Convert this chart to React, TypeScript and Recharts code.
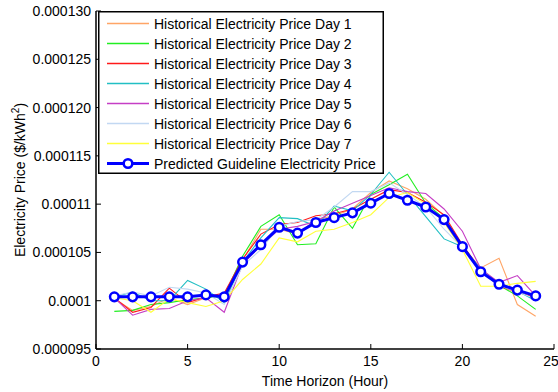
import React from 'react';
import { LineChart, Line, XAxis, YAxis, Legend, Label } from 'recharts';

const hours = [1, 2, 3, 4, 5, 6, 7, 8, 9, 10, 11, 12, 13, 14, 15, 16, 17, 18, 19, 20, 21, 22, 23, 24];

const day1 = [0.0001002, 0.0000990, 0.0000994, 0.0001003, 0.0000996, 0.0001003, 0.0001006, 0.0001042, 0.0001074, 0.0001074, 0.0001069, 0.0001084, 0.0001088, 0.0001095, 0.0001112, 0.0001124, 0.0001116, 0.0001105, 0.0001088, 0.0001056, 0.0001034, 0.0001044, 0.0000996, 0.0000984];
const day2 = [0.0000989, 0.0000990, 0.0000996, 0.0000998, 0.0001001, 0.0001003, 0.0001005, 0.0001046, 0.0001077, 0.0001089, 0.0001058, 0.0001059, 0.0001097, 0.0001075, 0.0001110, 0.0001120, 0.0001131, 0.0001101, 0.0001085, 0.0001057, 0.0001031, 0.0001016, 0.0001005, 0.0000991];
const day3 = [0.0001003, 0.0000988, 0.0000993, 0.0001013, 0.0000998, 0.0001004, 0.0001008, 0.0001043, 0.0001069, 0.0001079, 0.0001081, 0.0001088, 0.0001090, 0.0001095, 0.0001105, 0.0001115, 0.0001112, 0.0001102, 0.0001089, 0.0001058, 0.0001032, 0.0001015, 0.0001009, 0.0001003];
const day4 = [0.0001004, 0.0001009, 0.0001000, 0.0001000, 0.0001021, 0.0001012, 0.0000998, 0.0001040, 0.0001065, 0.0001086, 0.0001085, 0.0001077, 0.0001098, 0.0001093, 0.0001110, 0.0001133, 0.0001110, 0.0001087, 0.0001064, 0.0001056, 0.0001033, 0.0001018, 0.0001010, 0.0001000];
const day5 = [0.0001003, 0.0000985, 0.0000991, 0.0000992, 0.0001000, 0.0001003, 0.0000988, 0.0001038, 0.0001057, 0.0001074, 0.0001077, 0.0001082, 0.0001093, 0.0001101, 0.0001109, 0.0001117, 0.0001113, 0.0001111, 0.0001095, 0.0001072, 0.0001033, 0.0001019, 0.0001026, 0.0001005];
const day6 = [0.0001005, 0.0001009, 0.0001005, 0.0001014, 0.0001012, 0.0001008, 0.0000996, 0.0001036, 0.0001053, 0.0001077, 0.0001082, 0.0001084, 0.0001097, 0.0001113, 0.0001113, 0.0001122, 0.0001110, 0.0001097, 0.0001074, 0.0001055, 0.0001032, 0.0001016, 0.0001009, 0.0001002];
const day7 = [0.0001003, 0.0001000, 0.0000988, 0.0001002, 0.0000998, 0.0000994, 0.0001000, 0.0001022, 0.0001038, 0.0001065, 0.0001061, 0.0001072, 0.0001074, 0.0001081, 0.0001089, 0.0001107, 0.0001112, 0.0001100, 0.0001081, 0.0001053, 0.0001015, 0.0001015, 0.0001018, 0.0001020];
const predicted = [0.0001004, 0.0001004, 0.0001004, 0.0001004, 0.0001004, 0.0001006, 0.0001004, 0.0001040, 0.0001058, 0.0001076, 0.0001070, 0.0001081, 0.0001086, 0.0001091, 0.0001101, 0.0001111, 0.0001104, 0.0001097, 0.0001084, 0.0001056, 0.0001030, 0.0001017, 0.0001011, 0.0001005];

const historical = [day1, day2, day3, day4, day5, day6, day7];
const historicalNames = [
  'Historical Electricity Price Day 1',
  'Historical Electricity Price Day 2',
  'Historical Electricity Price Day 3',
  'Historical Electricity Price Day 4',
  'Historical Electricity Price Day 5',
  'Historical Electricity Price Day 6',
  'Historical Electricity Price Day 7',
];
const historicalColors = ['#FFA566', '#22EE22', '#FF1A1A', '#22BFC4', '#C53EC5', '#C2D8F2', '#FFFF3A'];
const predictedName = 'Predicted Guideline Electricity Price';
const predictedColor = '#0000FF';

const xTicks = [0, 5, 10, 15, 20, 25];
const yTickValues = [0.000095, 0.0001, 0.000105, 0.00011, 0.000115, 0.00012, 0.000125, 0.00013];
const yTickLabels = ['0.000095', '0.0001', '0.000105', '0.00011', '0.000115', '0.000120', '0.000125', '0.000130'];

const data = hours.map((h, i) => {
  const row: Record<string, number> = { hour: h, pred: predicted[i] };
  historical.forEach((arr, k) => {
    row['d' + (k + 1)] = arr[i];
  });
  return row;
});

const FONT = '"Liberation Sans", Arial, Helvetica, sans-serif';

const formatY = (v: number) => {
  const idx = Math.round((v - 0.000095) / 0.000005);
  return yTickLabels[idx] ?? String(v);
};

const colorFor = (key: string) => {
  if (key === 'pred') return predictedColor;
  const k = parseInt(key.slice(1), 10) - 1;
  return historicalColors[k] ?? '#000';
};

const LegendBox = (props: any) => {
  const payload = props.payload || [];
  const w = 286;
  const h = 163;
  return (
    <svg width={w} height={h} style={{ display: 'block' }}>
      <rect x={0.75} y={0.75} width={w - 1.5} height={h - 1.5} fill="#fff" stroke="#000" strokeWidth={1.5} />
      {payload.map((p: any, i: number) => {
        const cy = 12.5 + i * 20;
        const key = String(p.dataKey);
        const isPred = key === 'pred';
        const c = colorFor(key);
        return (
          <g key={i}>
            <line x1={9} x2={51} y1={cy} y2={cy} stroke={c} strokeWidth={isPred ? 3 : 1.3} />
            {isPred && <circle cx={30} cy={cy} r={4.3} fill="#fff" stroke={c} strokeWidth={2.5} />}
            <text x={56} y={cy + 5} fontSize={14} fontFamily={FONT} fill="#000">{p.value}</text>
          </g>
        );
      })}
    </svg>
  );
};

const YLabel = () => (
  <text x={0} y={0} transform="translate(25,180) rotate(-90)" textAnchor="middle" fontSize={14} fontFamily={FONT} fill="#000">
    Electricity Price ($/kWh
    <tspan dy={-6} fontSize={10}>2</tspan>
    <tspan dy={6}>)</tspan>
  </text>
);

export default function App() {
  return (
    <div style={{ position: 'absolute', left: 0, top: 0, width: 558, height: 392, background: '#fff', fontFamily: FONT }}>
      <LineChart width={558} height={392} data={data} margin={{ top: 11, right: 4, bottom: 0, left: 0 }}>
        <XAxis
          dataKey="hour"
          type="number"
          domain={[0, 25]}
          ticks={xTicks}
          allowDataOverflow
          height={43}
          tickSize={-5}
          tickMargin={12}
          tick={{ fill: '#000', fontSize: 14, fontFamily: FONT }}
          axisLine={{ stroke: '#000', strokeWidth: 1.5 }}
          tickLine={{ stroke: '#000' }}
        >
          <Label value="Time Horizon (Hour)" position="insideBottom" offset={6} fill="#000" fontSize={14} fontFamily={FONT} />
        </XAxis>
        <XAxis
          xAxisId="top"
          orientation="top"
          dataKey="hour"
          type="number"
          domain={[0, 25]}
          ticks={xTicks}
          height={0}
          tickSize={-5}
          tick={false}
          axisLine={{ stroke: '#000', strokeWidth: 1.5 }}
          tickLine={{ stroke: '#000' }}
        />
        <YAxis
          type="number"
          domain={[0.000095, 0.00013]}
          ticks={yTickValues}
          allowDataOverflow
          width={96}
          tickSize={-5}
          tickMargin={10}
          tickFormatter={formatY}
          tick={{ fill: '#000', fontSize: 14, fontFamily: FONT }}
          axisLine={{ stroke: '#000', strokeWidth: 1.5 }}
          tickLine={{ stroke: '#000' }}
          label={<YLabel />}
        />
        <YAxis
          yAxisId="right"
          orientation="right"
          type="number"
          domain={[0.000095, 0.00013]}
          ticks={yTickValues}
          width={0}
          tickSize={-5}
          tick={false}
          axisLine={{ stroke: '#000', strokeWidth: 1.5 }}
          tickLine={{ stroke: '#000' }}
        />
        {historical.map((_, k) => (
          <Line
            key={k}
            type="linear"
            dataKey={'d' + (k + 1)}
            name={historicalNames[k]}
            stroke={historicalColors[k]}
            strokeWidth={1.1}
            dot={false}
            isAnimationActive={false}
          />
        ))}
        <Line
          type="linear"
          dataKey="pred"
          name={predictedName}
          stroke={predictedColor}
          strokeWidth={3}
          dot={{ r: 4.3, fill: '#fff', stroke: predictedColor, strokeWidth: 2.5 }}
          isAnimationActive={false}
        />
        <Legend
          layout="vertical"
          align="center"
          verticalAlign="middle"
          content={<LegendBox />}
          wrapperStyle={{ left: 98, top: 11, width: 286, height: 163 }}
        />
      </LineChart>
    </div>
  );
}
